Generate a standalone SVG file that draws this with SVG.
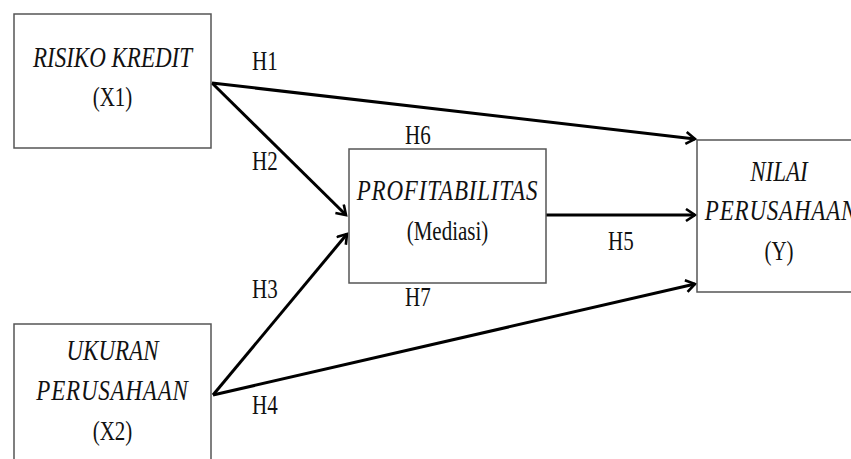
<svg xmlns="http://www.w3.org/2000/svg" width="851" height="459" viewBox="0 0 851 459">
<style>
.box{fill:#fff;stroke:#555;stroke-width:1.5}
.ln{stroke:#000;stroke-width:3;fill:none;marker-end:url(#ah)}
text{font-family:'Liberation Serif','DejaVu Serif',serif;fill:#111}
.it{font-style:italic;font-size:23px;text-anchor:middle}
.up{font-size:21px;text-anchor:middle}
.lb{font-size:21px}
</style>
<defs>
<marker id="ah" markerUnits="userSpaceOnUse" markerWidth="14" markerHeight="16" refX="11" refY="7" orient="auto">
<path d="M2,1 L11,7 L2,13" fill="none" stroke="#000" stroke-width="2.6"/>
</marker>
</defs>
<rect width="851" height="459" fill="#fff"/>
<g id="connectors">
<line class="ln" x1="212" y1="83" x2="695" y2="139"/>
<line class="ln" x1="212" y1="83" x2="346" y2="215"/>
<line class="ln" x1="213" y1="395" x2="347" y2="234"/>
<line class="ln" x1="213" y1="395" x2="695" y2="284"/>
<line class="ln" x1="546" y1="215" x2="695" y2="215"/>
<text class="lb" transform="translate(252,70) scale(1,1.28)">H1</text>
<text class="lb" transform="translate(252,170) scale(1,1.28)">H2</text>
<text class="lb" transform="translate(252,298) scale(1,1.28)">H3</text>
<text class="lb" transform="translate(252,414) scale(1,1.28)">H4</text>
<text class="lb" transform="translate(608,250) scale(1,1.28)">H5</text>
<text class="lb" transform="translate(405,144) scale(1,1.28)">H6</text>
<text class="lb" transform="translate(405,306) scale(1,1.28)">H7</text>
</g>
<g id="x1">
<rect class="box" x="14" y="14" width="197" height="134"/>
<text class="it" transform="translate(112.5,67) scale(1,1.28)">RISIKO KREDIT</text>
<text class="up" transform="translate(112.5,106) scale(1,1.28)">(X1)</text>
</g>
<g id="mediasi">
<rect class="box" x="349" y="149" width="197" height="134"/>
<text class="it" transform="translate(447.5,200) scale(1,1.28)" letter-spacing="0.8">PROFITABILITAS</text>
<text class="up" transform="translate(447.5,240) scale(1,1.28)">(Mediasi)</text>
</g>
<g id="y">
<rect class="box" x="697" y="140" width="170" height="152"/>
<text class="it" transform="translate(779,181) scale(1,1.28)">NILAI</text>
<text class="it" transform="translate(781,220) scale(1,1.28)" letter-spacing="0.8">PERUSAHAAN</text>
<text class="up" transform="translate(779,260) scale(1,1.28)">(Y)</text>
</g>
<g id="x2">
<rect class="box" x="14" y="324" width="197" height="150"/>
<text class="it" transform="translate(112.5,360) scale(1,1.28)">UKURAN</text>
<text class="it" transform="translate(112.5,400) scale(1,1.28)" letter-spacing="0.8">PERUSAHAAN</text>
<text class="up" transform="translate(112.5,440) scale(1,1.28)">(X2)</text>
</g>
</svg>
